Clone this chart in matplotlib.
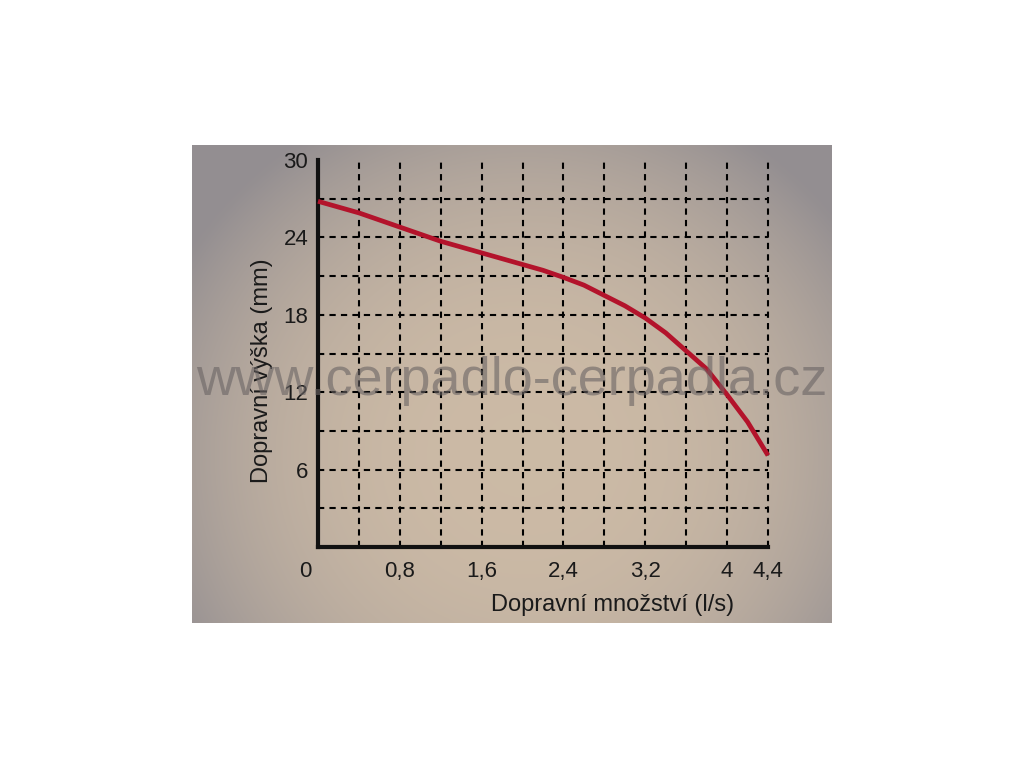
import numpy as np
import matplotlib
matplotlib.use("Agg")
import matplotlib.pyplot as plt

# data
flow = [0, 0.2, 0.4, 0.6, 0.8, 1.0, 1.2, 1.4, 1.6, 1.8, 2.0, 2.2,
        2.4, 2.6, 2.8, 3.0, 3.2, 3.4, 3.6, 3.8, 4.0, 4.2, 4.4]
head = [26.8, 26.35, 25.9, 25.35, 24.8, 24.25, 23.7, 23.25, 22.8, 22.35, 21.9, 21.45,
        20.9, 20.3, 19.5, 18.7, 17.75, 16.6, 15.2, 13.8, 11.8, 9.7, 7.1]

xticks = [0.8, 1.6, 2.4, 3.2, 4.0, 4.4]
xtick_labels = ["0,8", "1,6", "2,4", "3,2", "4", "4,4"]
yticks = [6, 12, 18, 24, 30]
xgrid = [0.4 * i for i in range(1, 12)]
ygrid = [3 * i for i in range(1, 10)]

plt.rcParams.update({
    "font.family": ["Liberation Sans", "DejaVu Sans"],
})

W, H = 1024, 768
fig = plt.figure(figsize=(W / 100, H / 100), dpi=100)
fig.patch.set_facecolor("white")

# photo background
bx, by, bw, bh = 192, 145, 640, 478
bg = fig.add_axes([bx / W, 1 - (by + bh) / H, bw / W, bh / H])
u, v = np.meshgrid(np.linspace(0, 1, 160), np.linspace(0, 1, 120))
w = np.clip(((u - 0.52) / 0.62) ** 2 + ((v - 0.65) / 0.8) ** 2, 0, 1) ** 1.3
c_mid = np.array([0.80, 0.73, 0.65])
c_edge = np.array([0.58, 0.56, 0.57])
img = c_mid * (1 - w[..., None]) + c_edge * w[..., None]
bg.imshow(img, aspect="auto", extent=[0, 1, 0, 1], interpolation="bicubic")
bg.set_axis_off()

# main axes: x=0 at px 318, x=4.4 at 768; y=0 at 547, y=30 at 160
x0, x1, y0, y1 = 318, 768, 547, 160
ax = fig.add_axes([x0 / W, 1 - y0 / H, (x1 - x0) / W, (y0 - y1) / H])
ax.set_facecolor("none")
ax.set_xlim(0, 4.4)
ax.set_ylim(0, 30)

dash = (0, (3, 2.5))
for gx in xgrid:
    ax.plot([gx, gx], [0, 30], color="black", lw=1.5, linestyle=dash, zorder=1, clip_on=False)
for gy in ygrid:
    ax.plot([0, 4.4], [gy, gy], color="black", lw=1.5, linestyle=dash, zorder=1, clip_on=False)

ax.plot(flow, head, color="#b3132b", lw=3.4, zorder=3, clip_on=False,
        solid_capstyle="butt", solid_joinstyle="round")

for side in ["top", "right"]:
    ax.spines[side].set_visible(False)
for side in ["left", "bottom"]:
    ax.spines[side].set_linewidth(3)
    ax.spines[side].set_color("#111111")

ax.set_xticks(xticks)
ax.set_xticklabels(xtick_labels)
ax.set_yticks(yticks)
ax.tick_params(axis="both", length=0, labelsize=16, colors="#1a1a1a")
ax.tick_params(axis="x", pad=10)
ax.tick_params(axis="y", pad=7)
ax.text(-0.12, -1.05, "0", ha="center", va="top", fontsize=16, color="#1a1a1a")

fig.text(613 / W, 1 - 605 / H, "Dopravní množství (l/s)", ha="center", va="center",
         fontsize=17, color="#1a1a1a")
fig.text(262 / W, 1 - 371 / H, "Dopravní výška (mm)", ha="center", va="center",
         rotation=90, fontsize=17, color="#1a1a1a")

# watermark
fig.text(512 / W, 1 - 381 / H, "www.cerpadlo-cerpadla.cz", ha="center", va="center",
         fontsize=39, color="#6a6464", alpha=0.6, zorder=10)

fig.savefig("out.png", dpi=100)
